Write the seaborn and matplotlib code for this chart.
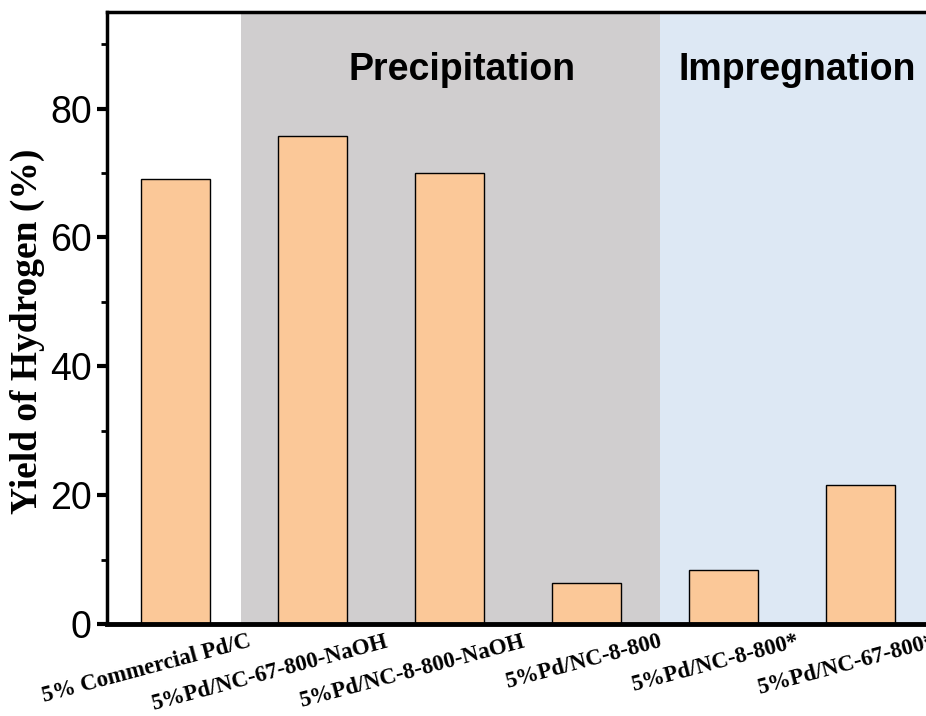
import matplotlib
matplotlib.use("Agg")
import matplotlib.pyplot as plt
import matplotlib.transforms as mtransforms
from matplotlib.ticker import MultipleLocator
import seaborn as sns
import pandas as pd

categories = ["5% Commercial Pd/C", "5%Pd/NC-67-800-NaOH", "5%Pd/NC-8-800-NaOH",
              "5%Pd/NC-8-800", "5%Pd/NC-8-800*", "5%Pd/NC-67-800*"]
yields = [69.0, 75.8, 70.0, 6.4, 8.4, 21.5]
regions = ["Precipitation", "Impregnation"]

df = pd.DataFrame({"cat": categories, "y": yields})

sns.set_theme(style="ticks")
plt.rcParams['font.family'] = ['Liberation Sans', 'DejaVu Sans']
plt.rcParams['text.color'] = 'black'
plt.rcParams['xtick.color'] = 'black'
plt.rcParams['ytick.color'] = 'black'
plt.rcParams['axes.labelcolor'] = 'black'

fig = plt.figure(figsize=(9.26, 7.16), dpi=100)
ax = fig.add_axes([107/926, 92/716, 1 - 107/926, (624-12)/716])

ax.axvspan(0.475, 3.54, color="#D0CECF", zorder=0, lw=0)
ax.axvspan(3.54, 6.0, color="#DDE8F4", zorder=0, lw=0)

sns.barplot(data=df, x="cat", y="y", color="#FBC898", saturation=1, width=0.5,
            edgecolor="black", linewidth=1.0, ax=ax, zorder=2)

ax.set_xlim(-0.5, 5.48)
ax.set_ylim(0, 95)
ax.yaxis.set_major_locator(MultipleLocator(20))
ax.yaxis.set_minor_locator(MultipleLocator(10))
ax.tick_params(axis="y", which="major", direction="out", length=7, width=3, labelsize=27, pad=4)
ax.tick_params(axis="y", which="minor", direction="out", length=4, width=2)
ax.tick_params(axis="x", which="both", length=0, pad=5)

for s in ["left", "top"]:
    ax.spines[s].set_linewidth(2.5)
    ax.spines[s].set_color("black")
ax.spines["bottom"].set_linewidth(3.5)
ax.spines["bottom"].set_color("black")
ax.spines["right"].set_visible(False)

ax.set_xlabel("")
ax.set_ylabel("Yield of Hydrogen (%)", fontsize=27, fontweight="bold",
              family=["Liberation Serif"])
ax.yaxis.set_label_coords(-0.076, 0.479)

offset = mtransforms.ScaledTranslation(0.72, 0, fig.dpi_scale_trans)
for lab in ax.get_xticklabels():
    lab.set_rotation(15)
    lab.set_ha("right")
    lab.set_va("top")
    lab.set_rotation_mode("anchor")
    lab.set_family(["Liberation Serif"])
    lab.set_fontweight("bold")
    lab.set_fontsize(16.5)
    lab.set_transform(lab.get_transform() + offset)

ax.text(2.095, 86.0, regions[0], ha="center", va="center", fontsize=27, fontweight="bold")
ax.text(4.54, 86.0, regions[1], ha="center", va="center", fontsize=27, fontweight="bold")

fig.savefig("out.png", dpi=100)
